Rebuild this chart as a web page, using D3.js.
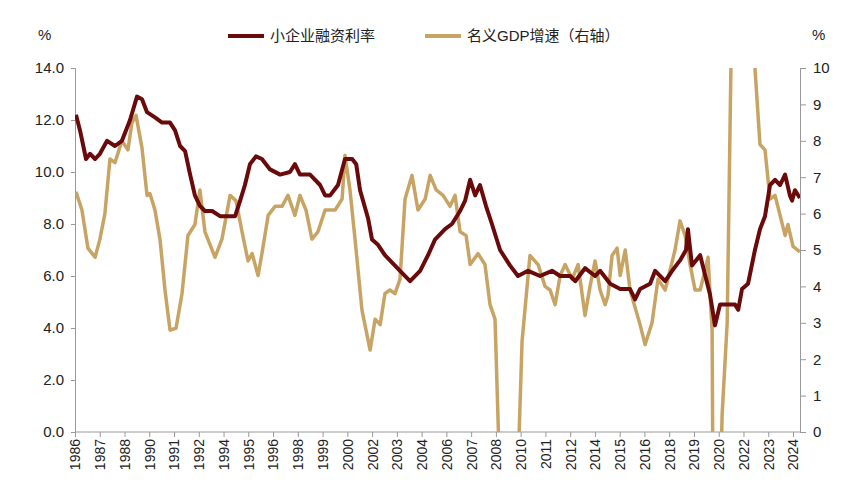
<!DOCTYPE html>
<html><head><meta charset="utf-8">
<script src="https://d3js.org/d3.v7.min.js"></script>
<style>body{margin:0;background:#fff}svg{font-family:"Liberation Sans",Arial,"Noto Sans CJK SC",sans-serif}</style>
</head><body><svg id="c" width="853" height="493"></svg>
<script>
// x-axis category labels (evenly spaced ticks)
const tickLabels=["1986","1987","1988","1990","1991","1992","1994","1995","1996","1998","1999","2000","2002","2003","2004","2006","2007","2008","2010","2011","2012","2014","2015","2016","2018","2019","2020","2022","2023","2024"];
const leftTicks=[0,2,4,6,8,10,12,14];
const rightTicks=[0,1,2,3,4,5,6,7,8,9,10];
// 小企业融资利率 : [period on a 0-30 time index spanning the axis, %]
const loanRate=[[0.04,12.2],[0.21,11.6],[0.46,10.5],[0.63,10.7],[0.84,10.5],[1.04,10.7],[1.34,11.2],[1.67,11.0],[1.96,11.2],[2.3,12.0],[2.59,12.9],[2.8,12.8],[3.01,12.3],[3.34,12.1],[3.64,11.9],[3.97,11.9],[4.18,11.6],[4.39,11.0],[4.6,10.8],[4.81,9.9],[5.01,9.1],[5.22,8.7],[5.43,8.5],[5.73,8.5],[6.06,8.3],[6.69,8.3],[6.9,8.9],[7.1,9.5],[7.31,10.3],[7.56,10.6],[7.81,10.5],[8.15,10.1],[8.57,9.9],[8.98,10.0],[9.19,10.3],[9.4,9.9],[9.82,9.9],[10.24,9.5],[10.45,9.1],[10.66,9.1],[10.99,9.5],[11.28,10.5],[11.58,10.5],[11.75,10.3],[11.91,9.3],[12.25,8.2],[12.41,7.4],[12.66,7.2],[12.95,6.8],[13.16,6.6],[13.58,6.2],[14.0,5.8],[14.42,6.2],[14.75,6.8],[15.04,7.4],[15.46,7.8],[15.75,8.0],[16.09,8.5],[16.3,8.9],[16.51,9.7],[16.72,9.1],[16.92,9.5],[17.17,8.7],[17.42,8.0],[17.76,7.0],[18.18,6.4],[18.51,6.0],[18.93,6.2],[19.43,6.0],[19.93,6.2],[20.27,6.0],[20.69,6.0],[20.9,5.8],[21.31,6.3],[21.73,6.0],[21.94,6.2],[22.36,5.7],[22.78,5.5],[23.19,5.5],[23.4,5.1],[23.61,5.5],[24.03,5.7],[24.24,6.2],[24.66,5.8],[24.95,6.2],[25.28,6.6],[25.53,7.0],[25.61,7.8],[25.78,6.4],[26.12,6.8],[26.53,5.3],[26.74,4.1],[26.95,4.9],[27.29,4.9],[27.58,4.9],[27.71,4.7],[27.87,5.5],[28.12,5.7],[28.41,7.0],[28.62,7.8],[28.83,8.3],[29.04,9.5],[29.25,9.7],[29.46,9.5],[29.67,9.9],[29.87,9.1],[29.96,8.9],[30.08,9.3],[30.29,9.0]];
// 名义GDP增速（右轴）: [period, %]
const gdpGrowth=[[0.04,6.6],[0.29,6.1],[0.54,5.05],[0.84,4.8],[1.04,5.3],[1.25,6.0],[1.46,7.5],[1.67,7.4],[1.96,8.0],[2.21,7.75],[2.38,8.5],[2.55,8.7],[2.8,7.8],[3.01,6.5],[3.13,6.55],[3.34,6.1],[3.55,5.3],[3.76,3.9],[3.97,2.8],[4.22,2.85],[4.47,3.8],[4.72,5.4],[5.01,5.7],[5.22,6.65],[5.43,5.5],[5.85,4.8],[6.14,5.3],[6.48,6.5],[6.73,6.35],[6.98,5.5],[7.23,4.7],[7.4,4.9],[7.65,4.3],[7.81,4.9],[8.07,5.95],[8.36,6.2],[8.65,6.2],[8.9,6.5],[9.19,5.95],[9.4,6.5],[9.65,6.1],[9.9,5.3],[10.15,5.5],[10.45,6.1],[10.87,6.1],[11.16,6.4],[11.28,7.6],[11.49,6.65],[11.7,5.3],[11.99,3.35],[12.33,2.25],[12.54,3.1],[12.75,2.95],[12.95,3.8],[13.16,3.9],[13.37,3.8],[13.58,4.2],[13.79,6.4],[14.08,7.05],[14.33,6.1],[14.63,6.4],[14.84,7.05],[15.09,6.65],[15.38,6.5],[15.67,6.2],[15.88,6.5],[16.09,5.5],[16.34,5.4],[16.51,4.6],[16.84,4.9],[17.13,4.6],[17.34,3.5],[17.55,3.1],[17.76,-1.5],[18.0,-6],[18.35,-5],[18.51,-1],[18.68,2.5],[19.01,4.85],[19.35,4.6],[19.64,4.0],[19.85,3.9],[20.06,3.5],[20.27,4.3],[20.48,4.6],[20.77,4.2],[21.02,4.6],[21.31,3.2],[21.52,4.0],[21.73,4.7],[21.94,3.9],[22.15,3.5],[22.27,3.75],[22.44,4.85],[22.65,5.05],[22.78,4.3],[22.99,5.0],[23.19,3.9],[23.61,2.95],[23.82,2.4],[24.11,3.0],[24.36,4.2],[24.66,3.9],[25.07,5.0],[25.28,5.8],[25.49,5.4],[25.7,4.6],[25.91,3.9],[26.12,3.9],[26.33,4.45],[26.45,4.8],[26.62,2.8],[26.7,-7],[26.91,-3],[27.04,0.5],[27.25,3],[27.45,12],[27.7,20],[28.0,18],[28.29,13],[28.41,10],[28.62,7.9],[28.83,7.75],[29.04,6.4],[29.25,6.5],[29.46,5.95],[29.67,5.4],[29.79,5.7],[30.0,5.1],[30.29,4.95]];

const svg=d3.select("#c");
const L=75,R=800,T=68,B=432;
const x=d3.scaleLinear().domain([0,30]).range([L,793]);
const xAxisScale=d3.scalePoint().domain(tickLabels).range([L,793]);
const yL=d3.scaleLinear().domain([0,14]).range([B,T]);
const yR=d3.scaleLinear().domain([0,10]).range([B,T]);
const axisCol="#999";

svg.append("defs").append("clipPath").attr("id","clip").append("rect").attr("x",L).attr("y",T).attr("width",R-L).attr("height",B-T);

const gl=svg.append("g").attr("transform",`translate(${L},0)`).call(d3.axisLeft(yL).tickValues(leftTicks).tickFormat(d3.format(".1f")).tickSize(4));
gl.selectAll("text").attr("font-size",15).attr("fill","#222").attr("dx",-4);
const gr=svg.append("g").attr("transform",`translate(${R},0)`).call(d3.axisRight(yR).tickValues(rightTicks).tickSize(6));
gr.selectAll("text").attr("font-size",15).attr("fill","#222").attr("dx",4);
const gb=svg.append("g").attr("transform",`translate(0,${B})`).call(d3.axisBottom(xAxisScale).tickSize(5).tickSizeOuter(0));
gb.selectAll("text").attr("font-size",14).attr("fill","#222").attr("transform","rotate(-90)").attr("text-anchor","end").attr("dx",-7).attr("dy","0.35em").attr("x",0).attr("y",0);
[gl,gr,gb].forEach(g=>g.selectAll("path,line").attr("stroke",axisCol));
gb.select(".domain").attr("d",`M${L},0H${R}`);

const g=svg.append("g").attr("clip-path","url(#clip)");
g.append("path").datum(gdpGrowth).attr("fill","none").attr("stroke","#c8a464").attr("stroke-width",3.5).attr("stroke-linejoin","round")
 .attr("d",d3.line().x(d=>x(d[0])).y(d=>yR(d[1])));
g.append("path").datum(loanRate).attr("fill","none").attr("stroke","#6b0a0a").attr("stroke-width",4).attr("stroke-linejoin","round")
 .attr("d",d3.line().x(d=>x(d[0])).y(d=>yL(d[1])));

svg.append("text").attr("x",38).attr("y",40).attr("font-size",15).attr("fill","#222").text("%");
svg.append("text").attr("x",812).attr("y",40).attr("font-size",15).attr("fill","#222").text("%");
const lg=svg.append("g");
lg.append("line").attr("x1",228).attr("x2",264).attr("y1",36).attr("y2",36).attr("stroke","#6b0a0a").attr("stroke-width",4);
lg.append("text").attr("x",270).attr("y",41).attr("font-size",15).attr("fill","#222").text("小企业融资利率");
lg.append("line").attr("x1",425).attr("x2",461).attr("y1",36).attr("y2",36).attr("stroke","#c8a464").attr("stroke-width",4);
lg.append("text").attr("x",467).attr("y",41).attr("font-size",15).attr("fill","#222").text("名义GDP增速（右轴）");
</script></body></html>
